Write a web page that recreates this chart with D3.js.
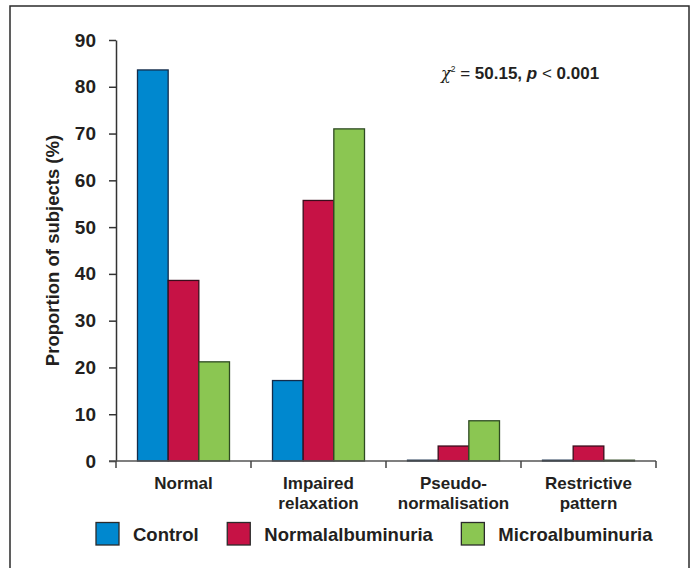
<!DOCTYPE html>
<html>
<head>
<meta charset="utf-8">
<script src="https://cdn.jsdelivr.net/npm/d3@7/dist/d3.min.js"></script>
<style>
  html, body { margin: 0; padding: 0; background: #fff; }
  svg { display: block; }
  text { font-family: "Liberation Sans", Arial, Helvetica, sans-serif; fill: #231f20; }
</style>
</head>
<body>
<svg id="chart" width="697" height="568"></svg>
<script>
// Diastolic function pattern by group
const categories = [["Normal"], ["Impaired", "relaxation"], ["Pseudo-", "normalisation"], ["Restrictive", "pattern"]];
const seriesNames = ["Control", "Normalalbuminuria", "Microalbuminuria"];
const controlValues = [83.6, 17.2, 0, 0];
const normoValues = [38.6, 55.7, 3.2, 3.2];
const microValues = [21.2, 71.0, 8.6, 0];
const seriesFill = ["#0088cf", "#c61245", "#8bc652"];
const seriesStroke = ["#142c4a", "#3a0d1c", "#2e4a22"];
const yTicks = [0, 10, 20, 30, 40, 50, 60, 70, 80, 90];
const yTitle = "Proportion of subjects (%)";

const seriesValues = [controlValues, normoValues, microValues];
const catKeys = categories.map(c => c.join(" "));

const svg = d3.select("#chart");

// outer frame
svg.append("rect")
  .attr("x", 10).attr("y", 6).attr("width", 679).attr("height", 600)
  .attr("fill", "none").attr("stroke", "#2b2b2b").attr("stroke-width", 1.5);

const x0 = d3.scaleBand().domain(catKeys).range([116, 656]).padding(0);
const x1 = d3.scaleBand().domain(seriesNames).range([21.5, x0.bandwidth() - 21.5]).padding(0);
const y = d3.scaleLinear().domain([0, 90]).range([461, 40]);

// bars (zero-valued bars still show as a thin outline on the baseline)
const groups = svg.append("g").selectAll("g")
  .data(catKeys)
  .join("g")
  .attr("transform", d => `translate(${x0(d)},0)`);

groups.selectAll("rect")
  .data((d, i) => seriesNames.map((s, j) => ({ s, j, v: seriesValues[j][i] })))
  .join("rect")
  .attr("x", d => x1(d.s))
  .attr("y", d => Math.min(y(d.v), y(0) - 0.8))
  .attr("width", x1.bandwidth())
  .attr("height", d => Math.max(y(0) - y(d.v), 0.8))
  .attr("fill", d => seriesFill[d.j])
  .attr("stroke", d => seriesStroke[d.j])
  .attr("stroke-width", 1.3);

// y axis
const yAxis = svg.append("g")
  .attr("transform", "translate(116,0)")
  .call(d3.axisLeft(y).tickValues(yTicks).tickSize(7).tickPadding(13).tickSizeOuter(0));
yAxis.select(".domain").attr("stroke", "#333").attr("stroke-width", 1.5);
yAxis.selectAll(".tick line").attr("stroke", "#333").attr("stroke-width", 1.5);
yAxis.selectAll(".tick text")
  .style("font-size", "19px").style("font-weight", "bold").attr("fill", "#231f20")
  .attr("font-family", null);

// x axis with ticks at category boundaries
const xAxisG = svg.append("g").attr("transform", `translate(0,${y(0)})`);
xAxisG.append("line")
  .attr("x1", 109).attr("x2", x0.range()[1])
  .attr("stroke", "#555").attr("stroke-width", 1.5);
const boundaries = catKeys.map(k => x0(k)).concat([x0.range()[1]]);
xAxisG.selectAll("line.bt")
  .data(boundaries)
  .join("line")
  .attr("class", "bt")
  .attr("x1", d => d).attr("x2", d => d)
  .attr("y1", 0).attr("y2", 7)
  .attr("stroke", "#444").attr("stroke-width", 1.5);

// category labels
svg.append("g").selectAll("text")
  .data(categories)
  .join("text")
  .attr("text-anchor", "middle")
  .attr("transform", (d, i) => `translate(${x0(catKeys[i]) + x0.bandwidth() / 2},489)`)
  .style("font-size", "17px").style("font-weight", "bold")
  .each(function(d) {
    d3.select(this).selectAll("tspan")
      .data(d).join("tspan")
      .attr("x", 0).attr("dy", (t, k) => k === 0 ? 0 : 19.7)
      .text(t => t);
  });

// y axis title
svg.append("text")
  .attr("transform", `translate(59,${(y(0) + y(90)) / 2}) rotate(-90)`)
  .attr("text-anchor", "middle")
  .style("font-size", "18.5px").style("font-weight", "bold")
  .text(yTitle);

// chi-square annotation
const stat = svg.append("text").attr("x", 441).attr("y", 79).style("font-size", "17px");
stat.append("tspan").text("χ").style("font-style", "italic")
  .style("font-family", "'DejaVu Serif', 'Liberation Serif', serif").style("font-size", "16px");
stat.append("tspan").text("2").attr("dy", -7).style("font-size", "8.5px");
stat.append("tspan").text(" = ").attr("dy", 7);
stat.append("tspan").text("50.15, ").style("font-weight", "bold");
stat.append("tspan").text("p").style("font-weight", "bold").style("font-style", "italic");
stat.append("tspan").text(" < ");
stat.append("tspan").text("0.001").style("font-weight", "bold");

// legend
const legend = svg.append("g");
let lx = 96;
seriesNames.forEach((name, j) => {
  legend.append("rect")
    .attr("x", lx).attr("y", 522.5).attr("width", 23).attr("height", 22.5)
    .attr("fill", seriesFill[j]).attr("stroke", "#2b2b2b").attr("stroke-width", 1.3);
  const t = legend.append("text")
    .attr("x", lx + 37).attr("y", 541)
    .style("font-size", "18.5px").style("font-weight", "bold")
    .text(name);
  lx += 37 + t.node().getComputedTextLength() + 28.5;
});
</script>
</body>
</html>
